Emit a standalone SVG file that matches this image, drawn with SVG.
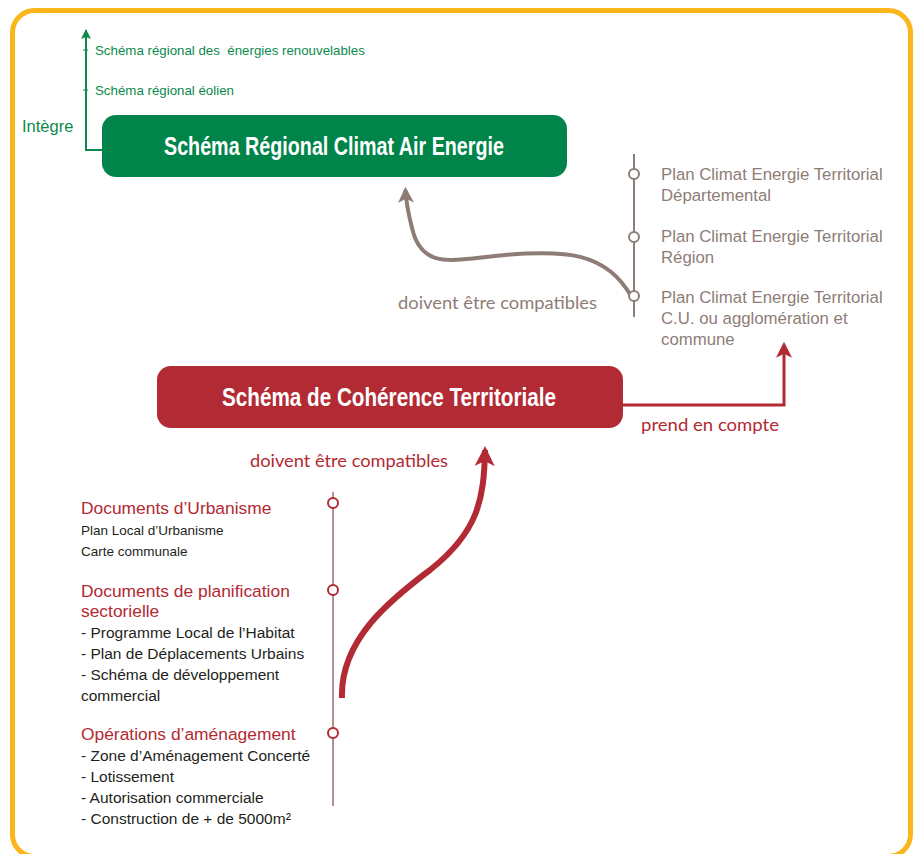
<svg xmlns="http://www.w3.org/2000/svg" width="915" height="854" viewBox="0 0 915 854">
  <style>
    .sans { font-family: "Liberation Sans", Arial, sans-serif; }
    .hum { font-family: "Lato", "Open Sans", sans-serif; }
    .title { font-family: "Liberation Sans", Arial, sans-serif; font-weight: bold; font-size: 26px; fill: #ffffff; }
    .green { fill: #0B8A4C; }
    .brown { fill: #8E7D76; }
    .red { fill: #B22A33; }
    .dark { fill: #231F20; }
    .dot-brown { fill: #ffffff; stroke: #8E7D76; stroke-width: 2; }
    .dot-red { fill: #ffffff; stroke: #B22A33; stroke-width: 2; }
    .pcet { font-size: 16.8px; }
    .head { font-size: 17.4px; }
    .item { font-size: 15.5px; }
    .sub { font-size: 13.5px; }
  </style>
  <defs>
    <marker id="arrow-green" viewBox="0 0 10 10" refX="9" refY="5" markerWidth="10" markerHeight="10" markerUnits="userSpaceOnUse" orient="auto">
      <path d="M0,0 L10,5 L0,10 L2,5 Z" fill="#0B8A4C"/>
    </marker>
    <marker id="arrow-brown" viewBox="0 0 10 10" refX="8" refY="5" markerWidth="20" markerHeight="16" markerUnits="userSpaceOnUse" orient="auto">
      <path d="M0,0 L10,5 L0,10 L2.5,5 Z" fill="#8E7D76"/>
    </marker>
    <marker id="arrow-red" viewBox="0 0 10 10" refX="8" refY="5" markerWidth="18" markerHeight="16" markerUnits="userSpaceOnUse" orient="auto">
      <path d="M0,0 L10,5 L0,10 L2.5,5 Z" fill="#B22A33"/>
    </marker>
    <marker id="arrow-red-big" viewBox="0 0 10 10" refX="8" refY="5" markerWidth="22" markerHeight="20" markerUnits="userSpaceOnUse" orient="auto">
      <path d="M0,0 L10,5 L0,10 L2.5,5 Z" fill="#B22A33"/>
    </marker>
  </defs>

  <!-- outer frame -->
  <rect x="12.5" y="10.5" width="898" height="846" rx="22" fill="#ffffff" stroke="#FBB61C" stroke-width="5"/>

  <!-- connectors -->
  <g id="connectors" fill="none">
    <path d="M102 150 L86 150 L86 30" stroke="#0B8A4C" stroke-width="2" marker-end="url(#arrow-green)"/>
    <path d="M83 50 H88 M83 90 H88" stroke="#0B8A4C" stroke-width="1"/>
    <path d="M631 296 C606 252 565 250 505 255 C455 259 422 272 412 228 C408 212 406 202 405.5 190" stroke="#8E7D76" stroke-width="4" marker-end="url(#arrow-brown)"/>
    <path d="M623 405 H784 V345" stroke="#B22A33" stroke-width="3" marker-end="url(#arrow-red)"/>
    <path d="M342 698 C340 640 390 600 430 570 C478 532 484 500 485 450" stroke="#B22A33" stroke-width="6" marker-end="url(#arrow-red-big)"/>
  </g>

  <!-- regional scheme -->
  <g id="srcae">
    <rect x="102" y="115" width="465" height="62" rx="14" fill="#00844A"/>
    <text class="title" x="334" y="155" text-anchor="middle" textLength="340" lengthAdjust="spacingAndGlyphs">Schéma Régional Climat Air Energie</text>
  </g>

  <g id="integre">
    <text class="sans green" x="22" y="132" font-size="16.5">Intègre</text>
    <text class="sans green" x="95" y="55" font-size="13.3" style="white-space:pre">Schéma régional des  énergies renouvelables</text>
    <text class="sans green" x="95" y="95" font-size="13.3">Schéma régional éolien</text>
  </g>

  <!-- territorial climate plans -->
  <g id="pcet">
    <line x1="634" y1="154" x2="634" y2="317" stroke="#8E7D76" stroke-width="2"/>
    <circle class="dot-brown" cx="634" cy="174" r="5"/>
    <circle class="dot-brown" cx="634" cy="237" r="5"/>
    <circle class="dot-brown" cx="634" cy="296" r="5"/>
    <text class="sans brown pcet" x="661" y="180">Plan Climat Energie Territorial</text>
    <text class="sans brown pcet" x="661" y="201">Départemental</text>
    <text class="sans brown pcet" x="661" y="242">Plan Climat Energie Territorial</text>
    <text class="sans brown pcet" x="661" y="263">Région</text>
    <text class="sans brown pcet" x="661" y="303">Plan Climat Energie Territorial</text>
    <text class="sans brown pcet" x="661" y="324">C.U. ou agglomération et</text>
    <text class="sans brown pcet" x="661" y="345">commune</text>
  </g>

  <g id="label-compat-brown">
    <text class="hum brown" x="398" y="309" font-size="17" textLength="199" lengthAdjust="spacingAndGlyphs">doivent être compatibles</text>
  </g>

  <!-- SCoT -->
  <g id="scot">
    <rect x="157" y="366" width="466" height="62" rx="14" fill="#B22A33"/>
    <text class="title" x="389" y="406" text-anchor="middle" textLength="334" lengthAdjust="spacingAndGlyphs">Schéma de Cohérence Territoriale</text>
  </g>

  <g id="label-prend">
    <text class="hum red" x="641" y="431" font-size="17" textLength="138" lengthAdjust="spacingAndGlyphs">prend en compte</text>
  </g>

  <g id="label-compat-red">
    <text class="hum red" x="250" y="467" font-size="17" textLength="198" lengthAdjust="spacingAndGlyphs">doivent être compatibles</text>
  </g>

  <!-- lower documents -->
  <g id="documents">
    <line x1="333" y1="492" x2="333" y2="806" stroke="#9C6E6E" stroke-width="1.5"/>
    <circle class="dot-red" cx="333" cy="503" r="5"/>
    <circle class="dot-red" cx="333" cy="590" r="5"/>
    <circle class="dot-red" cx="333" cy="733" r="5"/>

    <text class="sans red head" x="81" y="514">Documents d’Urbanisme</text>
    <text class="sans dark sub" x="81" y="535">Plan Local d’Urbanisme</text>
    <text class="sans dark sub" x="81" y="556">Carte communale</text>

    <text class="sans red head" x="81" y="597">Documents de planification</text>
    <text class="sans red head" x="81" y="617">sectorielle</text>
    <text class="sans dark item" x="81" y="638">- Programme Local de l’Habitat</text>
    <text class="sans dark item" x="81" y="659">- Plan de Déplacements Urbains</text>
    <text class="sans dark item" x="81" y="680">- Schéma de développement</text>
    <text class="sans dark item" x="81" y="701">commercial</text>

    <text class="sans red head" x="81" y="740">Opérations d’aménagement</text>
    <text class="sans dark item" x="81" y="761">- Zone d’Aménagement Concerté</text>
    <text class="sans dark item" x="81" y="782">- Lotissement</text>
    <text class="sans dark item" x="81" y="803">- Autorisation commerciale</text>
    <text class="sans dark item" x="81" y="824">- Construction de + de 5000m²</text>
  </g>
</svg>
